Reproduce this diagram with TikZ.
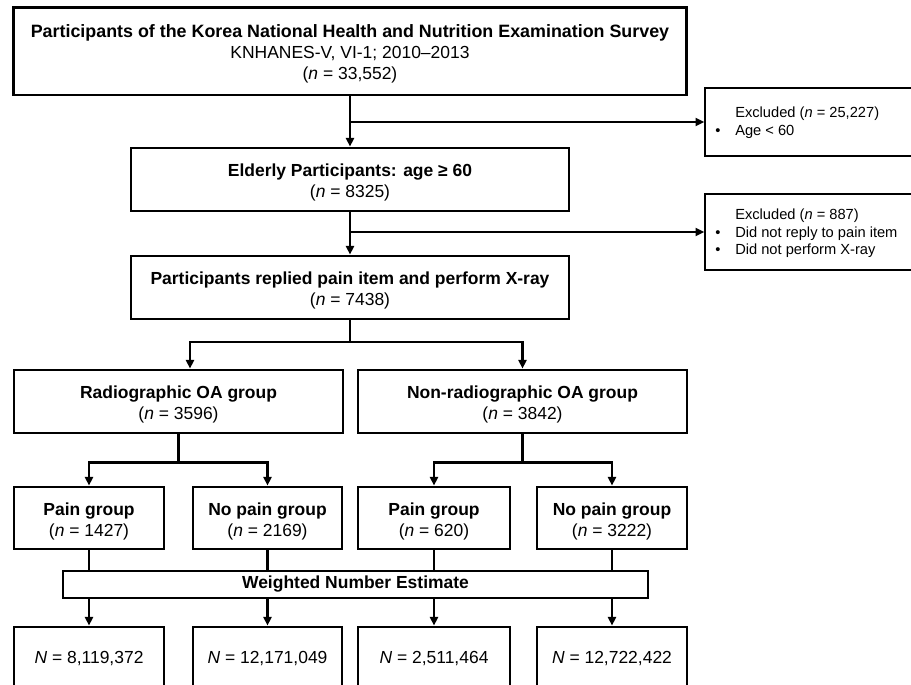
\documentclass[tikz,border=0pt]{standalone}
\usepackage{fontspec}
\setmainfont{Liberation Sans}
\usetikzlibrary{arrows.meta,calc}
\newcommand{\tallstrut}{\rule{0pt}{14pt}}
\begin{document}
\begin{tikzpicture}[x=0.75pt,y=-0.75pt,
  mainfont/.style={font=\fontsize{13.1}{15.75}\selectfont},
  box/.style={draw,line width=2.1pt,align=center,inner sep=0pt,mainfont},
  thinbox/.style={draw,line width=1.2pt,inner sep=0pt},
  extext/.style={inner sep=0pt,align=left,font=\fontsize{11}{13.1}\selectfont},
  conn/.style={line width=1.7pt},
  arr/.style={conn,-{Triangle[length=6.5pt,width=6pt]}},
  smallbox/.style={box,minimum height=46.5pt},
  nbox/.style={box,minimum height=47.25pt}
]
\useasboundingbox (0,0) rectangle (911,685);
\clip (0,0) rectangle (911,685);

\node[box,minimum width=504.75pt,minimum height=65.6pt] (top) at (350,51.25)
  {\tallstrut{\fontsize{13.4}{15.75}\selectfont\bfseries Participants of the Korea National Health and Nutrition Examination Survey}\\KNHANES-V, VI-1; 2010–2013\\(\textit{n} = 33,552)};
\node[box,minimum width=328.5pt,minimum height=47.25pt] (elderly) at (350,179.5)
  {\tallstrut\textbf{Elderly Participants: age ≥ 60}\\(\textit{n} = 8325)};
\node[box,minimum width=328.5pt,minimum height=47.25pt] (replied) at (350,287.5)
  {\tallstrut\textbf{Participants replied pain item and perform X-ray}\\(\textit{n} = 7438)};

\node[thinbox,minimum width=165pt,minimum height=51pt] (excl1) at (815,122) {};
\node[extext,anchor=west] (e1t) at (715,122.5)
  {\makebox[15pt][l]{}Excluded (\textit{n} = 25,227)\\\makebox[15pt][l]{\textbullet}Age < 60};
\node[thinbox,minimum width=165pt,minimum height=57pt] (excl2) at (815,232) {};
\node[extext,anchor=west] (e2t) at (715,233.5)
  {\makebox[15pt][l]{}Excluded (\textit{n} = 887)\\\makebox[15pt][l]{\textbullet}Did not reply to pain item\\\makebox[15pt][l]{\textbullet}Did not perform X-ray};

\node[box,minimum width=246.75pt,minimum height=47.25pt] (rad) at (178.5,401.5)
  {\tallstrut\textbf{Radiographic OA group}\\(\textit{n} = 3596)};
\node[box,minimum width=246.75pt,minimum height=47.25pt] (nonrad) at (522.5,401.5)
  {\tallstrut\textbf{Non-radiographic OA group}\\(\textit{n} = 3842)};

\node[smallbox,minimum width=112.5pt] (pain1) at (89,518) {\tallstrut\textbf{Pain group}\\(\textit{n} = 1427)};
\node[smallbox,minimum width=111.75pt] (nopain1) at (267.5,518) {\tallstrut\textbf{No pain group}\\(\textit{n} = 2169)};
\node[smallbox,minimum width=114pt] (pain2) at (434,518) {\tallstrut\textbf{Pain group}\\(\textit{n} = 620)};
\node[smallbox,minimum width=112.5pt] (nopain2) at (612,518) {\tallstrut\textbf{No pain group}\\(\textit{n} = 3222)};

\node[thinbox,mainfont,minimum width=438.75pt,minimum height=20.25pt] (wt) at (355.5,584.5)
  {\raisebox{-1pt}{\textbf{Weighted Number Estimate}}};

\node[nbox,minimum width=112.5pt] (n1) at (89,658.5) {\textit{N} = 8,119,372};
\node[nbox,minimum width=111.75pt] (n2) at (267.5,658.5) {\raisebox{1.5pt}{\textit{N} = 12,171,049}};
\node[nbox,minimum width=114pt] (n3) at (434,658.5) {\textit{N} = 2,511,464};
\node[nbox,minimum width=112.5pt] (n4) at (612,658.5) {\textit{N} = 12,722,422};

\draw[arr] (top.south) -- (elderly.north);
\draw[arr] (top.south |- excl1.west) -- (excl1.west);
\draw[arr] (elderly.south) -- (replied.north);
\draw[arr] (elderly.south |- excl2.west) -- (excl2.west);

\coordinate (j1) at (350,342);
\draw[conn] (replied.south) -- (j1);
\draw[arr] (j1) -| ($(rad.north)+(11.5,0)$);
\draw[arr] (j1) -| (nonrad.north);

\draw[conn] (rad.south) -- ++(0,28) coordinate (j2);
\draw[arr] (j2) -| (pain1.north);
\draw[arr] (j2) -| (nopain1.north);
\draw[conn] (nonrad.south) -- ++(0,28) coordinate (j3);
\draw[arr] (j3) -| (pain2.north);
\draw[arr] (j3) -| (nopain2.north);

\foreach \b/\n in {pain1/n1,nopain1/n2,pain2/n3,nopain2/n4}{
  \draw[conn] (\b.south) -- (\b.south |- wt.north);
  \draw[arr] (\b.south |- wt.south) -- (\n.north);
}
\end{tikzpicture}
\end{document}
